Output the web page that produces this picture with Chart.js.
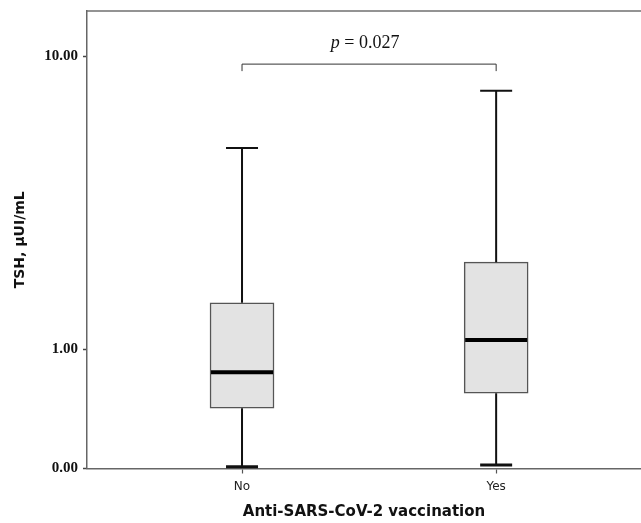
<!DOCTYPE html>
<html>
<head>
<meta charset="utf-8">
<script src="https://cdn.jsdelivr.net/npm/chart.js@4/dist/chart.umd.min.js"></script>
<style>
    html, body { margin: 0; padding: 0; background: #fff; overflow: hidden; }
    #wrap { width: 641px; height: 523px; }
</style>
</head>
<body>
<div id="wrap"><canvas id="boxChart"></canvas></div>
<script>
// Dữ liệu: TSH (µUI/mL) theo nhóm tiêm vắc-xin
const categories = ['No', 'Yes'];
const whiskerMin = [0.01, 0.02];
const q1Values = [0.42, 0.55];
const medianValues = [0.75, 1.11];
const q3Values = [1.62, 2.32];
const whiskerMax = [5.45, 8.0];

const yTickValues = [0, 1, 10];
const yTickLabels = ['0.00', '1.00', '10.00'];
const yTopValue = 13.3;

const pValueText = ' = 0.027';
const bracketLevel = 9.5;

// trục Y dùng log10(x + 1)
const tf = v => Math.log10(v + 1);

const boxData = categories.map((c, i) => ({ x: i, y: [tf(q1Values[i]), tf(q3Values[i])] }));

const boxPlotPlugin = {
    id: 'boxPlotParts',
    beforeDatasetsDraw(chart) {
        const { ctx, chartArea } = chart;
        // khung phía trên
        ctx.save();
        ctx.strokeStyle = '#6f6f6f';
        ctx.lineWidth = 1.5;
        ctx.beginPath();
        ctx.moveTo(chartArea.left, chartArea.top);
        ctx.lineTo(chartArea.right, chartArea.top);
        ctx.stroke();
        ctx.restore();
    },
    afterDatasetsDraw(chart) {
        const { ctx } = chart;
        const xs = chart.scales.x, ys = chart.scales.y;
        const bars = chart.getDatasetMeta(0).data;
        ctx.save();
        categories.forEach((c, i) => {
            const bar = bars[i];
            const cx = xs.getPixelForValue(i);
            const half = bar.width / 2;
            const capHalf = bar.width / 4;
            const yMin = ys.getPixelForValue(tf(whiskerMin[i]));
            const yQ1 = ys.getPixelForValue(tf(q1Values[i]));
            const yMed = ys.getPixelForValue(tf(medianValues[i]));
            const yQ3 = ys.getPixelForValue(tf(q3Values[i]));
            const yMax = ys.getPixelForValue(tf(whiskerMax[i]));

            ctx.strokeStyle = '#111';
            ctx.lineWidth = 2;
            ctx.beginPath();
            ctx.moveTo(cx, yQ3); ctx.lineTo(cx, yMax);
            ctx.moveTo(cx, yQ1); ctx.lineTo(cx, yMin);
            ctx.stroke();

            // chặn trên / dưới
            ctx.lineWidth = 2;
            ctx.beginPath();
            ctx.moveTo(cx - capHalf, yMax); ctx.lineTo(cx + capHalf, yMax);
            ctx.stroke();
            ctx.lineWidth = 3;
            ctx.beginPath();
            ctx.moveTo(cx - capHalf, yMin); ctx.lineTo(cx + capHalf, yMin);
            ctx.stroke();

            // trung vị
            ctx.strokeStyle = '#000';
            ctx.lineWidth = 4;
            ctx.beginPath();
            ctx.moveTo(cx - half + 1, yMed); ctx.lineTo(cx + half - 1, yMed);
            ctx.stroke();
        });

        // ngoặc so sánh và giá trị p
        const x0 = xs.getPixelForValue(0), x1 = xs.getPixelForValue(1);
        const yb = ys.getPixelForValue(tf(bracketLevel));
        ctx.strokeStyle = '#333';
        ctx.lineWidth = 1;
        ctx.beginPath();
        ctx.moveTo(x0, yb + 7); ctx.lineTo(x0, yb); ctx.lineTo(x1, yb); ctx.lineTo(x1, yb + 7);
        ctx.stroke();

        ctx.fillStyle = '#111';
        ctx.textBaseline = 'middle';
        ctx.font = 'italic 18px "Liberation Serif"';
        const wP = ctx.measureText('p').width;
        ctx.font = '18px "Liberation Serif"';
        const wRest = ctx.measureText(pValueText).width;
        const startX = (x0 + x1) / 2 - 4 - (wP + wRest) / 2;
        ctx.textAlign = 'left';
        ctx.font = 'italic 18px "Liberation Serif"';
        ctx.fillText('p', startX, yb - 21);
        ctx.font = '18px "Liberation Serif"';
        ctx.fillText(pValueText, startX + wP, yb - 21);
        ctx.restore();
    }
};

const ctxBox = document.getElementById('boxChart').getContext('2d');
const boxChart = new Chart(ctxBox, {
    type: 'bar',
    data: {
        datasets: [{
            data: boxData,
            backgroundColor: '#e3e3e3',
            borderColor: '#555',
            borderWidth: 1.5,
            borderSkipped: false,
            barThickness: 64
        }]
    },
    options: {
        responsive: true,
        maintainAspectRatio: false,
        animation: false,
        layout: { padding: 0 },
        plugins: { legend: { display: false }, tooltip: { enabled: false } },
        scales: {
            x: {
                type: 'linear',
                offset: false,
                min: -0.61,
                max: 1.57,
                afterBuildTicks: scale => { scale.ticks = categories.map((c, i) => ({ value: i })); },
                afterFit: scale => { scale.height = 54.5; scale.paddingLeft = 0; scale.paddingRight = 0; },
                ticks: {
                    callback: (v, i) => categories[i],
                    color: '#222',
                    font: { family: '"DejaVu Sans"', size: 12 },
                    padding: 6,
                    maxRotation: 0
                },
                grid: { offset: false, drawOnChartArea: false, tickLength: 5, tickColor: '#555', tickWidth: 1.2 },
                border: { color: '#666', width: 1.5 },
                title: {
                    display: true,
                    text: 'Anti-SARS-CoV-2 vaccination',
                    color: '#111',
                    font: { family: '"DejaVu Sans"', size: 15, weight: 'bold' },
                    padding: { top: 0, bottom: 2 }
                }
            },
            y: {
                min: 0,
                max: tf(yTopValue),
                afterBuildTicks: scale => { scale.ticks = yTickValues.map(v => ({ value: tf(v) })); },
                afterFit: scale => { scale.width = 87; scale.paddingTop = 11; scale.paddingBottom = 0; },
                ticks: {
                    callback: (v, i) => yTickLabels[i],
                    color: '#111',
                    font: { family: '"Liberation Serif"', size: 15, weight: 'bold' },
                    padding: 5
                },
                grid: { drawOnChartArea: false, tickLength: 4, tickColor: '#444', tickWidth: 1.5 },
                border: { color: '#666', width: 1.5 },
                title: {
                    display: true,
                    text: 'TSH, µUI/mL',
                    color: '#111',
                    font: { family: '"DejaVu Sans"', size: 14, weight: 'bold' },
                    padding: { top: 12, bottom: 0 }
                }
            }
        }
    },
    plugins: [boxPlotPlugin]
});
</script>
</body>
</html>
